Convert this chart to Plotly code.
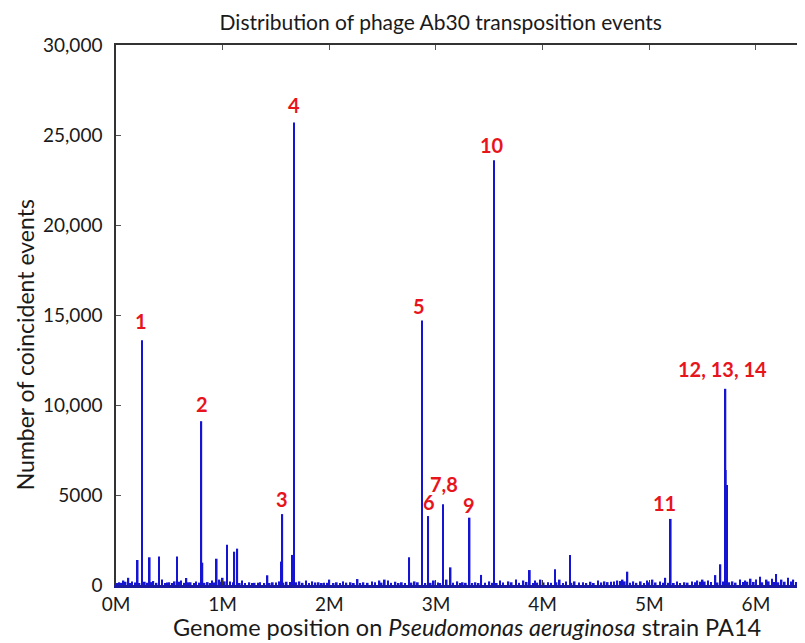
import plotly.graph_objects as go

# ---- data (positions in Mb, counts) ----
positions = [0.03, 0.07, 0.116, 0.15, 0.203, 0.244, 0.27, 0.316, 0.35, 0.403, 0.43, 0.50, 0.55, 0.572,
             0.61, 0.66, 0.70, 0.75, 0.800, 0.810, 0.86, 0.90, 0.944, 0.97, 1.00, 1.040, 1.07, 1.109,
             1.137, 1.18, 1.25, 1.30, 1.35, 1.420, 1.47, 1.53, 1.549, 1.559, 1.60, 1.655, 1.668, 1.72,
             1.78, 1.84, 1.90, 1.95, 2.00, 2.07, 2.13, 2.20, 2.265, 2.32, 2.40, 2.47, 2.52, 2.55, 2.62,
             2.68, 2.749, 2.80, 2.868, 2.927, 2.98, 3.065, 3.10, 3.137, 3.20, 3.25, 3.315, 3.37, 3.424,
             3.50, 3.543, 3.60, 3.68, 3.75, 3.82, 3.880, 3.93, 3.98, 4.05, 4.117, 4.16, 4.22, 4.258,
             4.30, 4.38, 4.45, 4.52, 4.58, 4.64, 4.70, 4.75, 4.795, 4.85, 4.92, 4.98, 5.03, 5.10, 5.15,
             5.201, 5.26, 5.33, 5.40, 5.45, 5.50, 5.55, 5.620, 5.667, 5.714, 5.717, 5.729, 5.78, 5.85,
             5.90, 5.95, 6.00, 6.040, 6.10, 6.15, 6.190, 6.24, 6.30, 6.35, 6.40, 6.45]
counts = [150, 250, 400, 200, 1390, 13600, 180, 1540, 220, 1590, 300, 150, 200, 1590,
          250, 390, 150, 200, 9100, 1240, 160, 250, 1460, 300, 400, 2240, 200, 1850,
          2020, 250, 150, 120, 150, 540, 150, 200, 1300, 3940, 180, 1670, 25700, 200,
          250, 200, 150, 120, 300, 150, 200, 150, 330, 150, 200, 250, 300, 250, 180,
          150, 1540, 200, 14700, 3830, 250, 4480, 300, 980, 200, 150, 3740, 150, 560,
          200, 23600, 250, 200, 300, 250, 830, 250, 300, 150, 870, 300, 200, 1670,
          200, 150, 180, 250, 200, 180, 250, 300, 740, 200, 200, 250, 300, 200, 400,
          3670, 200, 150, 200, 250, 300, 250, 550, 1150, 10900, 6390, 5560, 200, 300,
          250, 350, 300, 460, 300, 350, 610, 300, 400, 300, 250, 300]

# low-level background bumps along the baseline
noise_pos = [0.01, 0.05, 0.09, 0.13, 0.18, 0.22, 0.29, 0.33, 0.38, 0.46, 0.48, 0.53, 0.59, 0.64,
             0.68, 0.73, 0.78, 0.83, 0.88, 0.92, 0.99, 1.02, 1.10, 1.16, 1.21, 1.28, 1.33, 1.39,
             1.44, 1.50, 1.57, 1.63, 1.69, 1.75, 1.81, 1.87, 1.93, 1.98, 2.04, 2.10, 2.16, 2.23,
             2.29, 2.36, 2.43, 2.49, 2.58, 2.65, 2.71, 2.77, 2.83, 2.90, 2.95, 3.02, 3.04, 3.16,
             3.23, 3.28, 3.34, 3.40, 3.46, 3.53, 3.57, 3.63, 3.71, 3.78, 3.85, 3.91, 3.95, 4.01,
             4.08, 4.13, 4.19, 4.27, 4.34, 4.41, 4.48, 4.55, 4.61, 4.67, 4.73, 4.77, 4.82, 4.88,
             4.95, 5.00, 5.06, 5.13, 5.18, 5.23, 5.29, 5.36, 5.43, 5.48, 5.52, 5.58, 5.64, 5.69,
             5.75, 5.81, 5.88, 5.92, 5.98, 6.06, 6.12, 6.17, 6.21, 6.27, 6.33, 6.38, 6.43]
noise_cnt = [100, 120, 180, 90, 140, 110, 130, 160, 120, 100, 140, 110, 180, 120,
             150, 100, 130, 120, 110, 140, 180, 200, 150, 110, 90, 100, 120, 90,
             110, 140, 130, 160, 150, 120, 100, 140, 110, 120, 100, 90, 130, 110,
             100, 120, 150, 130, 120, 100, 110, 130, 150, 110, 120, 140, 110, 130,
             100, 120, 110, 100, 130, 120, 110, 140, 150, 120, 170, 110, 130, 140,
             120, 150, 110, 120, 140, 100, 110, 140, 160, 190, 220, 200, 130, 120,
             110, 150, 140, 130, 120, 110, 100, 130, 150, 180, 190, 160, 140, 200,
             150, 130, 160, 180, 170, 150, 200, 170, 150, 180, 200, 170, 190]

label_texts = ["1", "2", "3", "4", "5", "6", "7,8", "9", "10", "11", "12, 13, 14"]
label_pos = [0.244, 0.800, 1.559, 1.668, 2.868, 2.927, 3.065, 3.315, 3.543, 5.201, 5.714]
label_cnt = [13600, 9100, 3940, 25700, 14700, 3830, 4480, 3740, 23600, 3670, 10900]

x_tick_vals = [0, 1, 2, 3, 4, 5, 6]
x_tick_text = ["0M", "1M", "2M", "3M", "4M", "5M", "6M"]
y_tick_vals = [0, 5000, 10000, 15000, 20000, 25000, 30000]
y_tick_text = ["0", "5000", "10,000", "15,000", "20,000", "25,000", "30,000"]

# ---- style ----
FONT = "Lato"
TXT = "#1a1a1a"
label_xshift = [-1, 1, 0, 0, -3, 1, 1, -1, -2, -6, -3]
label_yshift = [5, 3, 1, 3, 0, 0, 6, -1, 1, 2, 6]

fig = go.Figure()
fig.add_trace(go.Bar(
    x=positions + noise_pos, y=counts + noise_cnt, width=0.016,
    marker=dict(color="#1414d2", line=dict(width=0)),
    showlegend=False,
))

annotations = []
for t, px, c, xs, ys in zip(label_texts, label_pos, label_cnt, label_xshift, label_yshift):
    annotations.append(dict(
        x=px, y=c, xref="x", yref="y", text=f"<b>{t}</b>", showarrow=False,
        xanchor="center", yanchor="bottom", xshift=xs, yshift=ys,
        font=dict(family=FONT, size=20, color="#e8141c"),
    ))

annotations.append(dict(
    x=-0.132, y=0.444, xref="paper", yref="paper", text="Number of coincident events",
    showarrow=False, textangle=-90, xanchor="center", yanchor="middle",
    font=dict(family=FONT, size=23, color=TXT),
))
annotations.append(dict(
    x=0.509, y=-0.077, xref="paper", yref="paper",
    text="Genome position on <i>Pseudomonas aeruginosa</i> strain PA14",
    showarrow=False, xanchor="center", yanchor="middle",
    font=dict(family=FONT, size=23.5, color=TXT),
))

# page body has an 8px margin, so the figure is 8px smaller and offsets shifted
fig.update_layout(
    width=797, height=635,
    margin=dict(l=108, r=0, t=37, b=58),
    plot_bgcolor="white", paper_bgcolor="white",
    barmode="overlay",
    title=dict(text="Distribution of phage Ab30 transposition events",
               x=0.543, xref="container", xanchor="center",
               y=1 - 7 / 635, yref="container", yanchor="top",
               font=dict(family=FONT, size=21, color=TXT)),
    xaxis=dict(range=[0, 6.46], tickvals=x_tick_vals, ticktext=x_tick_text,
               automargin=False,
               showgrid=False, zeroline=False, showline=True, linecolor="#1a1aa0",
               linewidth=2.5, ticks="inside", ticklen=5, tickcolor="#333",
               tickfont=dict(family=FONT, size=19, color=TXT)),
    xaxis2=dict(range=[0, 6.46], overlaying="x", side="top", tickvals=x_tick_vals,
                automargin=False,
                showticklabels=False, showgrid=False, zeroline=False, showline=True,
                linecolor="#333", linewidth=1.5, ticks="inside", ticklen=5, tickcolor="#555"),
    yaxis=dict(range=[0, 30000], tickvals=y_tick_vals, ticktext=y_tick_text,
               automargin=False,
               showgrid=False, zeroline=False, showline=True, linecolor="#333",
               linewidth=1.5, ticks="inside", ticklen=5, tickcolor="#555",
               ticklabelstandoff=8,
               tickfont=dict(family=FONT, size=19, color=TXT)),
    annotations=annotations,
)
# invisible trace to activate the top axis
fig.add_trace(go.Scatter(x=[0], y=[0], xaxis="x2", mode="markers",
                         marker=dict(opacity=0), showlegend=False, hoverinfo="skip"))

fig.write_html("out.html")
